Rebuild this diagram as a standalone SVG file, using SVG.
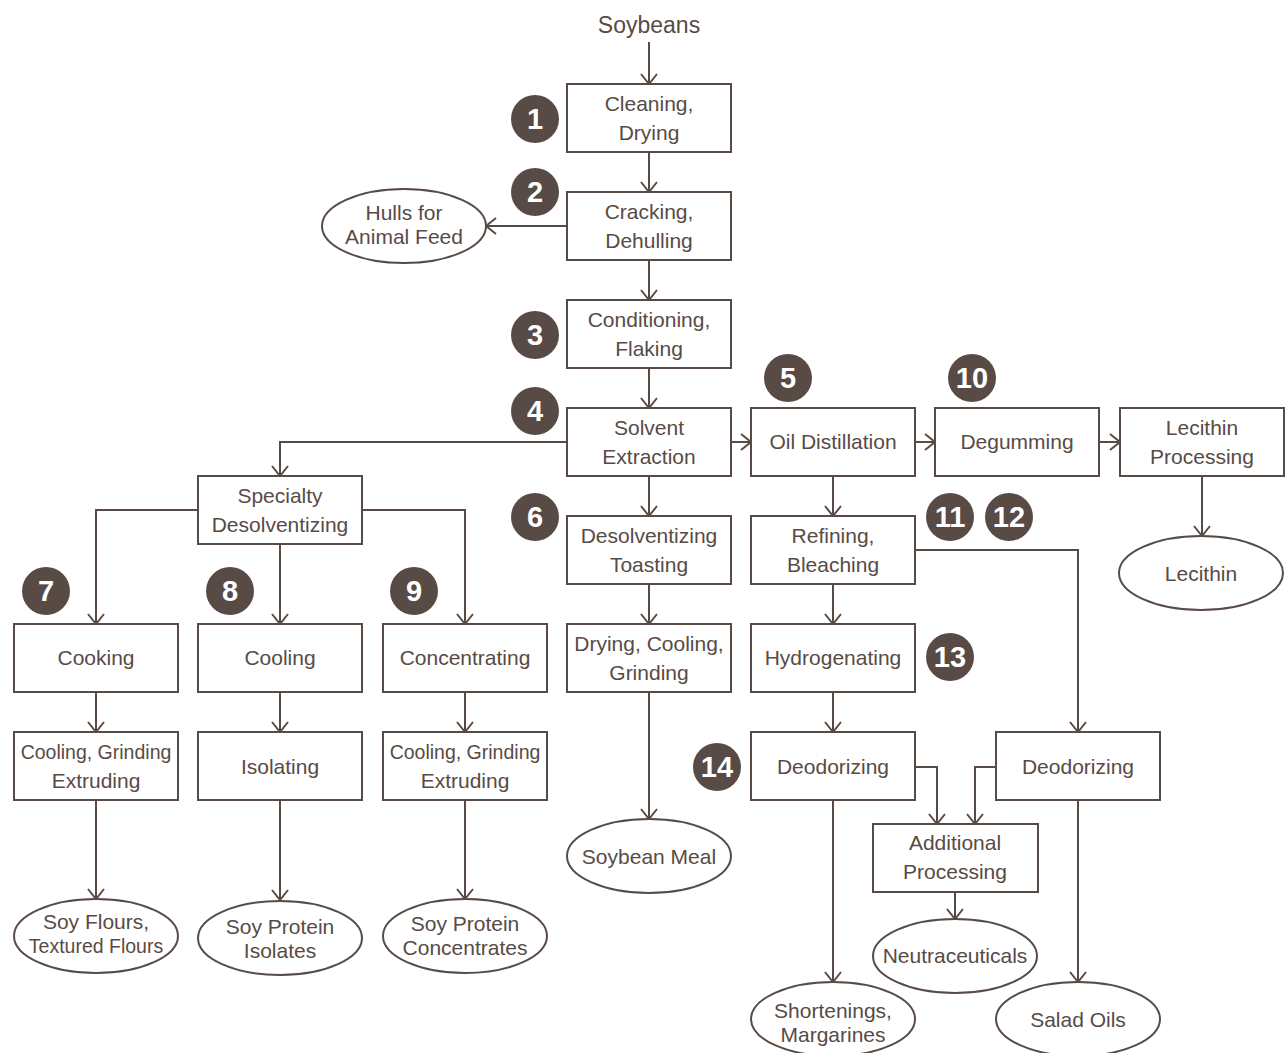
<svg xmlns="http://www.w3.org/2000/svg" width="1286" height="1053" viewBox="0 0 1286 1053">
<defs>
<style>
.box{fill:#fff;stroke:#584b45;stroke-width:2}
.ell{fill:#fff;stroke:#584b45;stroke-width:2}
.t{font-family:"Liberation Sans",Arial,sans-serif;font-size:21px;fill:#584b45;text-anchor:middle}
.s{font-size:19.5px}
.c{fill:#584b45}
.n{font-family:"Liberation Sans Narrow","Liberation Sans",Arial,sans-serif;font-weight:bold;font-size:29px;fill:#fff;text-anchor:middle}
.ln{fill:none;stroke:#584b45;stroke-width:2;marker-end:url(#arr)}
</style>
<marker id="arr" viewBox="0 0 12 18" refX="11" refY="9" markerWidth="12" markerHeight="18" markerUnits="userSpaceOnUse" orient="auto">
<path d="M1,1 L11,9 L1,17" fill="none" stroke="#584b45" stroke-width="2"/>
</marker>
</defs>
<rect width="1286" height="1053" fill="#fff"/>

<g id="connectors">
<line class="ln" x1="649" y1="42" x2="649" y2="84"/>
<line class="ln" x1="649" y1="152" x2="649" y2="192"/>
<line class="ln" x1="567" y1="226" x2="486" y2="226"/>
<line class="ln" x1="649" y1="260" x2="649" y2="300"/>
<line class="ln" x1="649" y1="368" x2="649" y2="408"/>
<line class="ln" x1="649" y1="476" x2="649" y2="516"/>
<line class="ln" x1="649" y1="584" x2="649" y2="624"/>
<line class="ln" x1="649" y1="692" x2="649" y2="819"/>
<polyline class="ln" points="567,442 280,442 280,476"/>
<polyline class="ln" points="198,510 96,510 96,624"/>
<polyline class="ln" points="362,510 465,510 465,624"/>
<line class="ln" x1="280" y1="544" x2="280" y2="624"/>
<line class="ln" x1="96" y1="692" x2="96" y2="732"/>
<line class="ln" x1="280" y1="692" x2="280" y2="732"/>
<line class="ln" x1="465" y1="692" x2="465" y2="732"/>
<line class="ln" x1="96" y1="800" x2="96" y2="899"/>
<line class="ln" x1="280" y1="800" x2="280" y2="900"/>
<line class="ln" x1="465" y1="800" x2="465" y2="899"/>
<line class="ln" x1="731" y1="442" x2="751" y2="442"/>
<line class="ln" x1="915" y1="442" x2="935" y2="442"/>
<line class="ln" x1="1099" y1="442" x2="1120" y2="442"/>
<line class="ln" x1="1202" y1="476" x2="1202" y2="536"/>
<line class="ln" x1="833" y1="476" x2="833" y2="516"/>
<line class="ln" x1="833" y1="584" x2="833" y2="624"/>
<line class="ln" x1="833" y1="692" x2="833" y2="732"/>
<line class="ln" x1="833" y1="800" x2="833" y2="982"/>
<polyline class="ln" points="915,550 1078,550 1078,732"/>
<polyline class="ln" points="915,767 937,767 937,824"/>
<polyline class="ln" points="996,767 975,767 975,824"/>
<line class="ln" x1="1078" y1="800" x2="1078" y2="982"/>
<line class="ln" x1="955" y1="892" x2="955" y2="919"/>
</g>

<g id="soybeans"><text class="t" x="649" y="33" style="font-size:23px">Soybeans</text></g>

<g id="cleaning"><rect class="box" x="567" y="84" width="164" height="68"/><text class="t" x="649" y="111">Cleaning,</text><text class="t" x="649" y="140">Drying</text></g>
<g id="cracking"><rect class="box" x="567" y="192" width="164" height="68"/><text class="t" x="649" y="219">Cracking,</text><text class="t" x="649" y="248">Dehulling</text></g>
<g id="hulls"><ellipse class="ell" cx="404" cy="226" rx="82" ry="37"/><text class="t" x="404" y="220">Hulls for</text><text class="t" x="404" y="244">Animal Feed</text></g>
<g id="conditioning"><rect class="box" x="567" y="300" width="164" height="68"/><text class="t" x="649" y="327">Conditioning,</text><text class="t" x="649" y="356">Flaking</text></g>
<g id="solvent"><rect class="box" x="567" y="408" width="164" height="68"/><text class="t" x="649" y="435">Solvent</text><text class="t" x="649" y="464">Extraction</text></g>
<g id="desolv"><rect class="box" x="567" y="516" width="164" height="68"/><text class="t" x="649" y="543">Desolventizing</text><text class="t" x="649" y="572">Toasting</text></g>
<g id="drying"><rect class="box" x="567" y="624" width="164" height="68"/><text class="t" x="649" y="651">Drying, Cooling,</text><text class="t" x="649" y="680">Grinding</text></g>
<g id="meal"><ellipse class="ell" cx="649" cy="856" rx="82" ry="37"/><text class="t" x="649" y="864">Soybean Meal</text></g>

<g id="specialty"><rect class="box" x="198" y="476" width="164" height="68"/><text class="t" x="280" y="503">Specialty</text><text class="t" x="280" y="532">Desolventizing</text></g>
<g id="cooking"><rect class="box" x="14" y="624" width="164" height="68"/><text class="t" x="96" y="665">Cooking</text></g>
<g id="cooling"><rect class="box" x="198" y="624" width="164" height="68"/><text class="t" x="280" y="665">Cooling</text></g>
<g id="concentrating"><rect class="box" x="383" y="624" width="164" height="68"/><text class="t" x="465" y="665">Concentrating</text></g>
<g id="cge1"><rect class="box" x="14" y="732" width="164" height="68"/><text class="t s" x="96" y="759">Cooling, Grinding</text><text class="t" x="96" y="788">Extruding</text></g>
<g id="isolating"><rect class="box" x="198" y="732" width="164" height="68"/><text class="t" x="280" y="774">Isolating</text></g>
<g id="cge2"><rect class="box" x="383" y="732" width="164" height="68"/><text class="t s" x="465" y="759">Cooling, Grinding</text><text class="t" x="465" y="788">Extruding</text></g>
<g id="flours"><ellipse class="ell" cx="96" cy="936" rx="82" ry="37"/><text class="t" x="96" y="929">Soy Flours,</text><text class="t s" x="96" y="953">Textured Flours</text></g>
<g id="isolates"><ellipse class="ell" cx="280" cy="938" rx="82" ry="37"/><text class="t" x="280" y="934">Soy Protein</text><text class="t" x="280" y="958">Isolates</text></g>
<g id="concentrates"><ellipse class="ell" cx="465" cy="936" rx="82" ry="37"/><text class="t" x="465" y="931">Soy Protein</text><text class="t" x="465" y="955">Concentrates</text></g>

<g id="oil"><rect class="box" x="751" y="408" width="164" height="68"/><text class="t" x="833" y="449">Oil Distillation</text></g>
<g id="degumming"><rect class="box" x="935" y="408" width="164" height="68"/><text class="t" x="1017" y="449">Degumming</text></g>
<g id="lecproc"><rect class="box" x="1120" y="408" width="164" height="68"/><text class="t" x="1202" y="435">Lecithin</text><text class="t" x="1202" y="464">Processing</text></g>
<g id="lecithin"><ellipse class="ell" cx="1201" cy="573" rx="82" ry="37"/><text class="t" x="1201" y="581">Lecithin</text></g>
<g id="refining"><rect class="box" x="751" y="516" width="164" height="68"/><text class="t" x="833" y="543">Refining,</text><text class="t" x="833" y="572">Bleaching</text></g>
<g id="hydro"><rect class="box" x="751" y="624" width="164" height="68"/><text class="t" x="833" y="665">Hydrogenating</text></g>
<g id="deod1"><rect class="box" x="751" y="732" width="164" height="68"/><text class="t" x="833" y="774">Deodorizing</text></g>
<g id="deod2"><rect class="box" x="996" y="732" width="164" height="68"/><text class="t" x="1078" y="774">Deodorizing</text></g>
<g id="additional"><rect class="box" x="873" y="824" width="165" height="68"/><text class="t" x="955" y="850">Additional</text><text class="t" x="955" y="879">Processing</text></g>
<g id="neutra"><ellipse class="ell" cx="955" cy="956" rx="82" ry="37"/><text class="t" x="955" y="963">Neutraceuticals</text></g>
<g id="shortenings"><ellipse class="ell" cx="833" cy="1019" rx="82" ry="37"/><text class="t" x="833" y="1018">Shortenings,</text><text class="t" x="833" y="1042">Margarines</text></g>
<g id="salad"><ellipse class="ell" cx="1078" cy="1019" rx="82" ry="37"/><text class="t" x="1078" y="1027">Salad Oils</text></g>

<g id="num1"><circle class="c" cx="535" cy="119" r="24"/><text class="n" x="535" y="129">1</text></g>
<g id="num2"><circle class="c" cx="535" cy="192" r="24"/><text class="n" x="535" y="202">2</text></g>
<g id="num3"><circle class="c" cx="535" cy="335" r="24"/><text class="n" x="535" y="345">3</text></g>
<g id="num4"><circle class="c" cx="535" cy="411" r="24"/><text class="n" x="535" y="421">4</text></g>
<g id="num5"><circle class="c" cx="788" cy="378" r="24"/><text class="n" x="788" y="388">5</text></g>
<g id="num6"><circle class="c" cx="535" cy="517" r="24"/><text class="n" x="535" y="527">6</text></g>
<g id="num7"><circle class="c" cx="46" cy="591" r="24"/><text class="n" x="46" y="601">7</text></g>
<g id="num8"><circle class="c" cx="230" cy="591" r="24"/><text class="n" x="230" y="601">8</text></g>
<g id="num9"><circle class="c" cx="414" cy="591" r="24"/><text class="n" x="414" y="601">9</text></g>
<g id="num10"><circle class="c" cx="972" cy="378" r="24"/><text class="n" x="972" y="388">10</text></g>
<g id="num11"><circle class="c" cx="950" cy="517" r="24"/><text class="n" x="950" y="527">11</text></g>
<g id="num12"><circle class="c" cx="1009" cy="517" r="24"/><text class="n" x="1009" y="527">12</text></g>
<g id="num13"><circle class="c" cx="950" cy="657" r="24"/><text class="n" x="950" y="667">13</text></g>
<g id="num14"><circle class="c" cx="717" cy="767" r="24"/><text class="n" x="717" y="777">14</text></g>
</svg>
